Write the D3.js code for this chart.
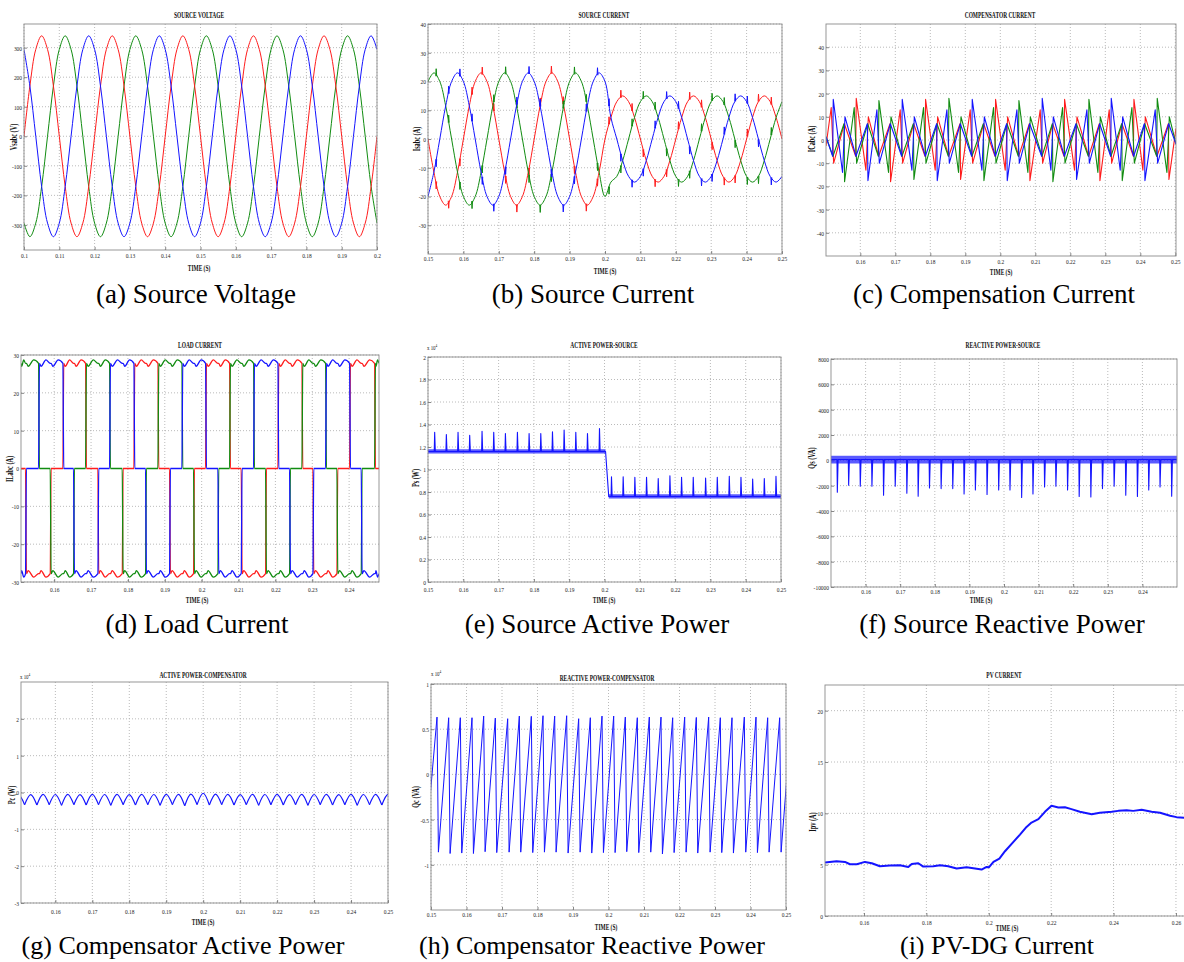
<!DOCTYPE html>
<html><head><meta charset="utf-8">
<script src="https://cdn.jsdelivr.net/npm/d3@7"></script>
<style>body{margin:0;background:#fff}</style>
</head><body>
<svg id="fig" width="1184" height="962"></svg>
<script>
// ---------------- data ----------------
// (a) three-phase source voltage, one sample every 1/600 s starting at 0.1 s
const voltStart = 0.1;
const voltStep = 1 / 600;
const voltA = [0,170,294,340,294,170,0,-170,-294,-340,-294,-170,
  0,170,294,340,294,170,0,-170,-294,-340,-294,-170,
  0,170,294,340,294,170,0,-170,-294,-340,-294,-170,
  0,170,294,340,294,170,0,-170,-294,-340,-294,-170,
  0,170,294,340,294,170,0,-170,-294,-340,-294,-170, 0];
const voltB = [294,170,0,-170,-294,-340,-294,-170,0,170,294,340,
  294,170,0,-170,-294,-340,-294,-170,0,170,294,340,
  294,170,0,-170,-294,-340,-294,-170,0,170,294,340,
  294,170,0,-170,-294,-340,-294,-170,0,170,294,340,
  294,170,0,-170,-294,-340,-294,-170,0,170,294,340, 294];
const voltC = [-294,-340,-294,-170,0,170,294,340,294,170,0,-170,
  -294,-340,-294,-170,0,170,294,340,294,170,0,-170,
  -294,-340,-294,-170,0,170,294,340,294,170,0,-170,
  -294,-340,-294,-170,0,170,294,340,294,170,0,-170,
  -294,-340,-294,-170,0,170,294,340,294,170,0,-170, -294];

// (b) source current, one sample every 1/600 s starting at 0.15 s (load step at 0.2 s)
const curStart = 0.15;
const curStep = 1 / 600;
const curA = [0,-11.5,-20,-23,-20,-11.5,0,11.5,20,23,20,11.5,
  0,-11.5,-20,-23,-20,-11.5,0,11.5,20,23,20,11.5,
  0,-11.5,-20,-23,-20,-11.5,0,
  7.5,13,15,13,7.5,0,-7.5,-13,-15,-13,-7.5,0,
  7.5,13,15,13,7.5,0,-7.5,-13,-15,-13,-7.5,0,
  7.5,13,15,13,7.5,0];
const curB = [-20,-11.5,0,11.5,20,23,20,11.5,0,-11.5,-20,-23,
  -20,-11.5,0,11.5,20,23,20,11.5,0,-11.5,-20,-23,
  -20,-11.5,0,11.5,20,23,20,
  7.5,0,-7.5,-13,-15,-13,-7.5,0,7.5,13,15,13,
  7.5,0,-7.5,-13,-15,-13,-7.5,0,7.5,13,15,13,
  7.5,0,-7.5,-13,-15,-13];
const curC = [20,23,20,11.5,0,-11.5,-20,-23,-20,-11.5,0,11.5,
  20,23,20,11.5,0,-11.5,-20,-23,-20,-11.5,0,11.5,
  20,23,20,11.5,0,-11.5,-20,
  -15,-13,-7.5,0,7.5,13,15,13,7.5,0,-7.5,-13,
  -15,-13,-7.5,0,7.5,13,15,13,7.5,0,-7.5,-13,
  -15,-13,-7.5,0,7.5,13];
const curSpikeSize = 2.6;

// load commutation instants (s), shared by load and source current
const loadSwitchTimes = [0.15231,0.15584,0.15901,0.16244,0.16533,0.16859,0.17193,0.17510,
  0.17854,0.18170,0.18486,0.18821,0.19137,0.19472,0.19788,0.20114,0.20448,0.20765,
  0.21081,0.21416,0.21741,0.22076,0.22392,0.22727,0.23025,0.23369,0.23676,0.24020,
  0.24336,0.24698];
// (d) load current: conduction state of each phase in each interval (+1, 0, -1)
const loadStateA = [0,-1,-1,0,1,1,0,-1,-1,0,1,1,0,-1,-1,0,1,1,0,-1,-1,0,1,1,0,-1,-1,0,1,1,0];
const loadStateC = [1,1,0,-1,-1,0,1,1,0,-1,-1,0,1,1,0,-1,-1,0,1,1,0,-1,-1,0,1,1,0,-1,-1,0,1];
const loadStateB = [-1,0,1,1,0,-1,-1,0,1,1,0,-1,-1,0,1,1,0,-1,-1,0,1,1,0,-1,-1,0,1,1,0,-1,-1];
// plateau ripple inside one interval: [fraction of interval, |current| A]
const loadRipple = [[0,27.8],[0.15,27.0],[0.6,28.7],[1,27.8]];

// (c) compensator current: switching events
const compEventTimes = [0.15219,0.15543,0.15876,0.16210,0.16524,0.16857,0.17190,0.17524,
  0.17857,0.18190,0.18524,0.18857,0.19190,0.19524,0.19857,0.20190,0.20524,0.20838,
  0.21190,0.21495,0.21829,0.22171,0.22524,0.22838,0.23162,0.23476,0.23810,0.24124,
  0.24476,0.24810];
// common 150 Hz ripple followed by the two idle phases
const compBase = [-7,7,-7,7,-7,7,-7,7,-7,7,-7,7,-7,7,-7,7,-7,7,-7,7,-7,7,-7,7,-7,7,-7,7,-7,7];
// phase that jumps at each event, and its peak
const compJumpPhase = ['B','G','R','B','G','R','B','G','R','B','G','R','B','G','R',
  'B','G','R','B','G','R','B','G','R','B','G','R','B','G','R'];
const compJumpPeak = [17.5,-18,18,-17.5,17,-18,17.5,-17,17.5,-17.5,18,-17,17.5,-17.5,17.5,
  -17.5,17,-17.5,18,-18,17.5,-17,17.5,-17.5,18,-17.5,17.5,-17.5,18,-17];
// phase finishing its ramp at each event: value reached, then value after the step
const compRampPhase = ['R','B','G','R','B','G','R','B','G','R','B','G','R','B','G',
  'R','B','G','R','B','G','R','B','G','R','B','G','R','B','G'];
const compRampEnd = [14,-14,14,-13,13,-14,13,-13,14,-13,13,-14,13,-13,14,-13,13,-14,13,-13,
  14,-13,13,-14,13,-13,14,-13,13,-14];
const compRebound = [-10,10,-10,10,-10,10,-10,10,-10,10,-10,10,-10,10,-10,10,-10,10,-10,10,
  -10,10,-10,10,-10,10,-10,10,-10,10];
const compStartValues = { R: -2.6, G: 1.4, B: 1.4 };
const compEndValues = { R: 5, G: -1.8, B: -1.8 };

// (e) source active power (W): mean level, ripple band, spikes
const psSegTimes = [[0.15,0.2003],[0.2012,0.25]];
const psLevels = [11600, 7600];
const psBandLow = [11420, 7420];
const psBandHigh = [11800, 7800];
const psSpikeTimes = [0.15189,0.15520,0.15851,0.16181,0.16531,0.16862,0.17193,0.17533,
  0.17864,0.18195,0.18526,0.18856,0.19187,0.19518,0.19858,0.20198,0.20529,0.20860,
  0.21191,0.21522,0.21853,0.22183,0.22514,0.22864,0.23195,0.23535,0.23866,0.24197,
  0.24527,0.24858];
const psSpikePeaks = [13300,13100,13300,13050,13400,13300,13200,13300,13200,13200,
  13350,13500,13300,13200,13650, 9350,9350,9300,9300,9200,9450,9300,9300,9250,9300,
  9400,9300,9150,9200,9400];

// (f) source reactive power (VA)
const qsLevel = 60;
const qsBandLow = -250;
const qsBandHigh = 360;
const qsSpikeTimes = [0.15183,0.15510,0.15846,0.16183,0.16519,0.16856,0.17192,0.17519,
  0.17846,0.18183,0.18519,0.18846,0.19173,0.19510,0.19846,0.20173,0.20510,0.20837,
  0.21173,0.21500,0.21837,0.22173,0.22510,0.22846,0.23183,0.23519,0.23856,0.24183,
  0.24510,0.24846];
const qsSpikeTips = [-2520,-1970,-2050,-2050,-2760,-2050,-2600,-2830,-2180,-2230,
  -2230,-2650,-2340,-2700,-2340,-2340,-2940,-2650,-2100,-2050,-2340,-2860,-2890,
  -2230,-2050,-2760,-2860,-2340,-2100,-2830];

// (g) compensator active power (W): cusp instants, cusp minima and arc maxima
const pcCuspTimes = [0.14833,0.15167,0.15500,0.15833,0.16167,0.16500,0.16833,0.17167,
  0.17500,0.17833,0.18167,0.18500,0.18833,0.19167,0.19500,0.19833,0.20167,0.20500,
  0.20833,0.21167,0.21500,0.21833,0.22167,0.22500,0.22833,0.23167,0.23500,0.23833,
  0.24167,0.24500,0.24833,0.25167];
const pcCuspValues = [-3200,-3300,-3400,-3300,-3500,-3300,-3400,-3300,-3500,-3300,
  -3400,-3300,-3500,-3300,-3600,-3300,-3400,-3300,-3400,-3300,-3500,-3300,-3400,
  -3300,-3500,-3300,-3400,-3300,-3500,-3300,-3400,-3300];
const pcArcPeaks = [-600,-550,-500,-550,-500,-550,-500,-550,-500,-550,-500,-550,-500,
  -500,-450,-200,-450,-500,-550,-500,-550,-500,-550,-500,-550,-500,-550,-500,-550,
  -500,-500];

// (h) compensator reactive power (VA): sawtooth crests and troughs
const qcStartPoint = [0.1484, -8600];
const qcEndPoint = [0.25155, 6300];
const qcFallTime = 0.0004;
const qcTopTimes = [0.15169,0.15498,0.15826,0.16155,0.16484,0.16812,0.17160,0.17488,
  0.17826,0.18155,0.18484,0.18822,0.19160,0.19488,0.19817,0.20146,0.20474,0.20812,
  0.21150,0.21479,0.21808,0.22146,0.22474,0.22822,0.23150,0.23479,0.23826,0.24155,
  0.24484,0.24822];
const qcTops = [6340,6270,6270,6270,6450,6230,6160,6450,6420,6490,6450,6490,6160,6270,
  6450,6450,6340,6270,6340,6340,6270,6340,6300,6340,6270,6270,6340,6340,6270,6270];
const qcBottoms = [-8600,-8750,-8700,-8750,-8550,-8650,-8600,-8600,-8650,-8600,-8600,
  -8700,-8600,-8700,-8650,-8650,-8550,-8650,-8600,-8800,-8650,-8600,-8700,-8600,
  -8650,-8700,-8600,-8650,-8600,-8600];

// (i) PV current (A)
const pvTimes = [0.1475,0.1512,0.1539,0.1555,0.1577,0.1603,0.1625,0.1651,0.1683,0.1715,
  0.1742,0.1753,0.1774,0.1790,0.1822,0.1844,0.1870,0.1897,0.1929,0.1956,0.1977,0.1993,
  0.2001,0.2015,0.2034,0.2052,0.2079,0.2100,0.2121,0.2137,0.2159,0.2180,0.2201,0.2223,
  0.2244,0.2265,0.2292,0.2330,0.2356,0.2394,0.2415,0.2442,0.2463,0.2490,0.2522,0.2549,
  0.2581,0.2602,0.2628,0.2645];
const pvValues = [5.20,5.33,5.27,5.04,5.04,5.27,5.14,4.85,4.91,4.94,4.78,5.07,5.14,4.81,
  4.85,4.94,4.85,4.62,4.75,4.62,4.52,4.78,4.75,5.27,5.59,6.31,7.22,7.93,8.68,9.10,9.43,
  10.15,10.73,10.57,10.60,10.41,10.15,9.92,10.05,10.15,10.24,10.31,10.24,10.34,10.15,
  10.05,9.76,9.63,9.56,9.50];

// tick values
const ticksA_x = [0.1,0.11,0.12,0.13,0.14,0.15,0.16,0.17,0.18,0.19,0.2];
const ticksA_y = [-300,-200,-100,0,100,200,300];
const ticks15_25 = [0.15,0.16,0.17,0.18,0.19,0.2,0.21,0.22,0.23,0.24,0.25];
const ticks16_25 = [0.16,0.17,0.18,0.19,0.2,0.21,0.22,0.23,0.24,0.25];
const ticks16_24 = [0.16,0.17,0.18,0.19,0.2,0.21,0.22,0.23,0.24];
const ticksB_y = [-30,-20,-10,0,10,20,30,40];
const ticksC_y = [-40,-30,-20,-10,0,10,20,30,40];
const ticksD_y = [-30,-20,-10,0,10,20,30];
const ticksE_y = [0,2000,4000,6000,8000,10000,12000,14000,16000,18000,20000];
const ticksF_y = [-10000,-8000,-6000,-4000,-2000,0,2000,4000,6000,8000];
const ticksG_y = [-30000,-20000,-10000,0,10000,20000];
const ticksH_y = [-10000,-5000,0,5000,10000];
const ticksI_x = [0.16,0.18,0.2,0.22,0.24,0.26];
const ticksI_y = [0,5,10,15,20];

// ---------------- drawing ----------------
const RED = '#ff1c1c', GREEN = '#118c11', BLUE = '#1414ff';
const PHASE_COLOR = { R: RED, G: GREEN, B: BLUE };
const SERIF = '"Liberation Serif","Times New Roman",Times,serif';
const svg = d3.select('#fig');
const fmt = d => String(+d.toFixed(6));
const fmt4 = d => String(+(d / 1e4).toFixed(6));

function squeezedText(parent, x, y, str, opt) {
  const sx = opt.sx ?? 0.75;
  const rot = opt.rotate ?? 0;
  return parent.append('text')
    .attr('transform', `translate(${x},${y}) rotate(${rot}) scale(${sx},1)`)
    .attr('text-anchor', opt.anchor ?? 'middle')
    .attr('dy', '0.35em')
    .attr('font-family', SERIF)
    .attr('font-size', opt.size)
    .attr('font-weight', opt.weight ?? 'normal')
    .attr('fill', opt.fill ?? '#111')
    .text(str);
}

function panel(cfg) {
  const [L, T, R, B] = cfg.frame;
  const x = d3.scaleLinear().domain(cfg.xDomain).range([L, R]);
  const y = d3.scaleLinear().domain(cfg.yDomain).range([B, T]);
  const g = svg.append('g');
  const clipId = 'clip-' + cfg.id;
  svg.append('clipPath').attr('id', clipId).append('rect')
    .attr('x', L).attr('y', T).attr('width', R - L).attr('height', B - T);

  // dotted grid
  g.append('g').selectAll('line').data(cfg.xTicks).join('line')
    .attr('x1', d => x(d)).attr('x2', d => x(d)).attr('y1', T).attr('y2', B)
    .attr('stroke', '#a8a8a8').attr('stroke-width', 0.8).attr('stroke-dasharray', '1,2');
  g.append('g').selectAll('line').data(cfg.yTicks).join('line')
    .attr('y1', d => y(d)).attr('y2', d => y(d)).attr('x1', L).attr('x2', R)
    .attr('stroke', '#a8a8a8').attr('stroke-width', 0.8).attr('stroke-dasharray', '1,2');

  // axes
  const xa = g.append('g').attr('transform', `translate(0,${B})`)
    .call(d3.axisBottom(x).tickValues(cfg.xTicks).tickSizeInner(-3).tickSizeOuter(0)
      .tickFormat(cfg.xFormat || fmt));
  xa.select('.domain').remove();
  xa.selectAll('line').attr('stroke', '#555').attr('stroke-width', 0.7);
  xa.selectAll('text').attr('y', cfg.tickY - B).attr('dy', '0.35em')
    .attr('transform', 'scale(0.78,1)').attr('font-family', SERIF).attr('font-size', 7).attr('fill', '#222');
  const ya = g.append('g').attr('transform', `translate(${L},0)`)
    .call(d3.axisLeft(y).tickValues(cfg.yTicks).tickSizeInner(-3).tickSizeOuter(0)
      .tickFormat(cfg.yFormat || fmt));
  ya.select('.domain').remove();
  ya.selectAll('line').attr('stroke', '#555').attr('stroke-width', 0.7);
  ya.selectAll('text').attr('x', -2.5).attr('dy', '0.35em')
    .attr('transform', 'scale(0.78,1)').attr('font-family', SERIF).attr('font-size', 7).attr('fill', '#222');

  // traces
  const sg = g.append('g').attr('clip-path', `url(#${clipId})`);
  cfg.draw(sg, x, y);

  // box
  g.append('rect').attr('x', L).attr('y', T).attr('width', R - L).attr('height', B - T)
    .attr('fill', 'none').attr('stroke', '#8c8c8c').attr('stroke-width', 0.9);

  // labels
  squeezedText(g, cfg.titleX, cfg.titleY, cfg.title, { size: 8, weight: 'bold', sx: 0.68 });
  squeezedText(g, cfg.xlabelX, cfg.xlabelY, 'TIME (S)', { size: 8, weight: 'bold', sx: 0.68 });
  squeezedText(g, cfg.ylabelX, cfg.ylabelY, cfg.ylabel, { size: 9.5, weight: 'bold', sx: 0.66, rotate: -90 });
  if (cfg.exponent) {
    const t = g.append('text').attr('x', cfg.exponent[0]).attr('y', cfg.exponent[1])
      .attr('font-family', SERIF).attr('font-size', 6.5).attr('fill', '#222')
      .attr('transform', `translate(${cfg.exponent[0] * 0.25},0) scale(0.75,1)`);
    t.append('tspan').text('x 10');
    t.append('tspan').attr('dy', -3).attr('font-size', 4.5).text('4');
  }
  g.append('text').attr('x', cfg.captionX).attr('y', cfg.captionY).attr('dy', '0.35em')
    .attr('text-anchor', 'middle').attr('font-family', SERIF).attr('font-size', cfg.captionSize || 27)
    .attr('fill', '#000').text(cfg.caption);
}

function trace(sg, pts, x, y, color, curve, width) {
  sg.append('path').datum(pts)
    .attr('d', d3.line().x(d => x(d[0])).y(d => y(d[1])).curve(curve || d3.curveLinear))
    .attr('fill', 'none').attr('stroke', color).attr('stroke-width', width || 1)
    .attr('stroke-linejoin', 'round');
}

const sampled = (t0, dt, vals) => vals.map((v, i) => [t0 + i * dt, v]);

// ---------------- panels ----------------
panel({
  id: 'a', frame: [24, 24, 377, 250], xDomain: [0.1, 0.2], yDomain: [-385, 380],
  xTicks: ticksA_x, yTicks: ticksA_y, tickY: 256,
  title: 'SOURCE VOLTAGE', titleX: 199, titleY: 15, xlabelX: 199, xlabelY: 268,
  ylabel: 'Vsabc (V)', ylabelX: 14, ylabelY: 137,
  caption: '(a) Source Voltage', captionX: 196, captionY: 294,
  draw: (sg, x, y) => {
    const c = d3.curveCatmullRom.alpha(0.5);
    trace(sg, sampled(voltStart, voltStep, voltC), x, y, GREEN, c);
    trace(sg, sampled(voltStart, voltStep, voltA), x, y, RED, c);
    trace(sg, sampled(voltStart, voltStep, voltB), x, y, BLUE, c);
  }
});

panel({
  id: 'b', frame: [428, 24, 782, 254], xDomain: [0.15, 0.25], yDomain: [-40, 40],
  xTicks: ticks15_25, yTicks: ticksB_y, tickY: 258.5,
  title: 'SOURCE CURRENT', titleX: 604, titleY: 15, xlabelX: 605, xlabelY: 271,
  ylabel: 'Isabc (A)', ylabelX: 417, ylabelY: 139,
  caption: '(b) Source Current', captionX: 593, captionY: 294,
  draw: (sg, x, y) => {
    const c = d3.curveCatmullRom.alpha(0.5);
    [[curA, RED], [curC, GREEN], [curB, BLUE]].forEach(([vals, col]) => {
      const pts = sampled(curStart, curStep, vals);
      trace(sg, pts, x, y, col, c);
      // short commutation spikes on top of each phase
      const ts = pts.map(p => p[0]);
      loadSwitchTimes.forEach(t => {
        const i = Math.min(d3.bisectRight(ts, t) - 1, ts.length - 2);
        const f = (t - ts[i]) / (ts[i + 1] - ts[i]);
        const base = vals[i] + (vals[i + 1] - vals[i]) * f;
        const s = base >= 0 ? curSpikeSize : -curSpikeSize;
        trace(sg, [[t - 0.00012, base], [t, base + s], [t + 0.00014, base]], x, y, col);
      });
    });
  }
});

function compPoints(phase, domain) {
  const pts = [[domain[0], compStartValues[phase]]];
  compEventTimes.forEach((t, k) => {
    if (compJumpPhase[k] === phase) {
      pts.push([t - 0.00008, compBase[k]], [t + 0.00008, compJumpPeak[k]]);
    } else if (compRampPhase[k] === phase) {
      pts.push([t - 0.0005, compRampEnd[k]], [t + 0.0002, compRebound[k]]);
    } else {
      pts.push([t, compBase[k]]);
    }
  });
  pts.push([domain[1], compEndValues[phase]]);
  return pts;
}

panel({
  id: 'c', frame: [826, 24, 1176, 256], xDomain: [0.1502, 0.2502], yDomain: [-50, 50],
  xTicks: ticks16_25, yTicks: ticksC_y, tickY: 262,
  title: 'COMPENSATOR CURRENT', titleX: 1000, titleY: 15, xlabelX: 1001, xlabelY: 272,
  ylabel: 'ICabc (A)', ylabelX: 812, ylabelY: 139,
  caption: '(c) Compensation Current', captionX: 994, captionY: 294,
  draw: (sg, x, y) => {
    ['R', 'G', 'B'].forEach(p => trace(sg, compPoints(p, x.domain()), x, y, PHASE_COLOR[p], d3.curveLinear, 1.1));
  }
});

function loadPoints(states, domain) {
  const pts = [];
  states.forEach((s, j) => {
    const t0 = j === 0 ? domain[0] : loadSwitchTimes[j - 1] + 0.00015;
    const t1 = j === states.length - 1 ? domain[1] : loadSwitchTimes[j] - 0.00008;
    if (s === 0) { pts.push([t0, 0], [t1, 0]); }
    else loadRipple.forEach(([f, v]) => pts.push([t0 + f * (t1 - t0), s * v]));
  });
  return pts;
}

panel({
  id: 'd', frame: [21, 355, 379, 582], xDomain: [0.151, 0.2481], yDomain: [-30, 30],
  xTicks: ticks16_24, yTicks: ticksD_y, tickY: 590,
  title: 'LOAD CURRENT', titleX: 200, titleY: 345.5, xlabelX: 197, xlabelY: 600.5,
  ylabel: 'ILabc (A)', ylabelX: 10, ylabelY: 469,
  caption: '(d) Load Current', captionX: 197, captionY: 624,
  draw: (sg, x, y) => {
    const dom = x.domain();
    trace(sg, loadPoints(loadStateA, dom), x, y, RED, d3.curveMonotoneX, 1.3);
    trace(sg, loadPoints(loadStateC, dom), x, y, GREEN, d3.curveMonotoneX, 1.3);
    trace(sg, loadPoints(loadStateB, dom), x, y, BLUE, d3.curveMonotoneX, 1.3);
  }
});

panel({
  id: 'e', frame: [428, 357, 781, 582], xDomain: [0.15, 0.25], yDomain: [0, 20000],
  xTicks: ticks15_25, yTicks: ticksE_y, yFormat: fmt4, tickY: 589.5,
  title: 'ACTIVE POWER-SOURCE', titleX: 604, titleY: 345, xlabelX: 604, xlabelY: 600.5,
  ylabel: 'Ps (W)', ylabelX: 416, ylabelY: 478, exponent: [427, 350],
  caption: '(e) Source Active Power', captionX: 597, captionY: 624,
  draw: (sg, x, y) => {
    const pts = [];
    psSegTimes.forEach(([a, b], s) => {
      sg.append('rect').attr('x', x(a)).attr('width', x(b) - x(a))
        .attr('y', y(psBandHigh[s])).attr('height', y(psBandLow[s]) - y(psBandHigh[s]))
        .attr('fill', BLUE).attr('opacity', 0.7);
      pts.push([a, psLevels[s]]);
      psSpikeTimes.forEach((t, i) => {
        if (t > a && t < b) pts.push([t - 0.00012, psLevels[s]], [t, psSpikePeaks[i]], [t + 0.00018, psLevels[s]]);
      });
      pts.push([b, psLevels[s]]);
    });
    trace(sg, pts, x, y, BLUE, d3.curveLinear, 1.1);
  }
});

panel({
  id: 'f', frame: [831, 359, 1177, 587], xDomain: [0.15, 0.25], yDomain: [-10000, 8000],
  xTicks: ticks16_24, yTicks: ticksF_y, tickY: 592,
  title: 'REACTIVE POWER-SOURCE', titleX: 1003, titleY: 345, xlabelX: 981, xlabelY: 600.5,
  ylabel: 'Qs (VA)', ylabelX: 812, ylabelY: 458,
  caption: '(f) Source Reactive Power', captionX: 1002, captionY: 624,
  draw: (sg, x, y) => {
    sg.append('rect').attr('x', x(0.15)).attr('width', x(0.25) - x(0.15))
      .attr('y', y(qsBandHigh)).attr('height', y(qsBandLow) - y(qsBandHigh))
      .attr('fill', BLUE).attr('opacity', 0.7);
    const pts = [[0.15, qsLevel]];
    qsSpikeTimes.forEach((t, i) => pts.push([t - 0.0001, qsLevel], [t, qsSpikeTips[i]], [t + 0.00022, qsLevel]));
    pts.push([0.25, qsLevel]);
    trace(sg, pts, x, y, BLUE, d3.curveLinear, 1.1);
  }
});

panel({
  id: 'g', frame: [21, 682, 388, 903], xDomain: [0.1507, 0.25], yDomain: [-30000, 30000],
  xTicks: ticks16_25, yTicks: ticksG_y, yFormat: fmt4, tickY: 912,
  title: 'ACTIVE POWER-COMPENSATOR', titleX: 203, titleY: 675, xlabelX: 203, xlabelY: 922,
  ylabel: 'Pc (W)', ylabelX: 12, ylabelY: 795, exponent: [20, 679],
  caption: '(g) Compensator Active Power', captionX: 183, captionY: 945, captionSize: 26,
  draw: (sg, x, y) => {
    // each arc runs from one cusp to the next through its crest
    pcArcPeaks.forEach((v, k) => {
      const a = pcCuspTimes[k], b = pcCuspTimes[k + 1];
      trace(sg, [[a, pcCuspValues[k]], [(a + b) / 2, v], [b, pcCuspValues[k + 1]]], x, y, BLUE, d3.curveNatural, 1.2);
    });
  }
});

panel({
  id: 'h', frame: [431, 684, 786, 910], xDomain: [0.15, 0.25], yDomain: [-15000, 10000],
  xTicks: ticks15_25, yTicks: ticksH_y, yFormat: fmt4, tickY: 915,
  title: 'REACTIVE POWER-COMPENSATOR', titleX: 607, titleY: 678, xlabelX: 606, xlabelY: 927,
  ylabel: 'Qc (VA)', ylabelX: 416, ylabelY: 797, exponent: [431, 676],
  caption: '(h) Compensator Reactive Power', captionX: 592, captionY: 945, captionSize: 26,
  draw: (sg, x, y) => {
    const pts = [qcStartPoint];
    qcTopTimes.forEach((t, i) => pts.push([t, qcTops[i]], [t + qcFallTime, qcBottoms[i]]));
    pts.push(qcEndPoint);
    trace(sg, pts, x, y, BLUE, d3.curveLinear, 1);
  }
});

panel({
  id: 'i', frame: [825, 685, 1190, 916], xDomain: [0.1475, 0.2645], yDomain: [0, 22.5],
  xTicks: ticksI_x, yTicks: ticksI_y, tickY: 923,
  title: 'PV CURRENT', titleX: 1004, titleY: 675, xlabelX: 1007, xlabelY: 928,
  ylabel: 'Ipv (A)', ylabelX: 813, ylabelY: 822,
  caption: '(i) PV-DG Current', captionX: 997, captionY: 945, captionSize: 26,
  draw: (sg, x, y) => {
    trace(sg, pvTimes.map((t, i) => [t, pvValues[i]]), x, y, BLUE, d3.curveLinear, 2);
  }
});
</script>
</body></html>
